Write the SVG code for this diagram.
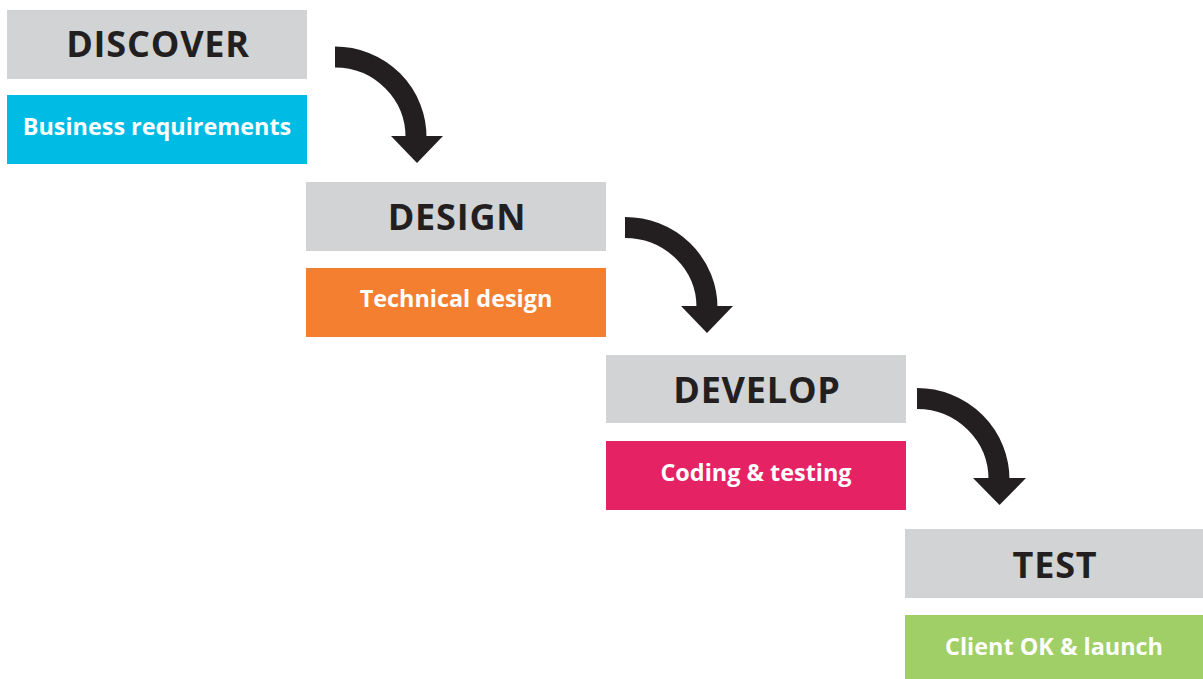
<svg xmlns="http://www.w3.org/2000/svg" width="1203" height="679" viewBox="0 0 1203 679">
<style>
.bg{fill:#ffffff}
.head{fill:#d1d3d4}
.title{font-family:"Open Sans","Liberation Sans",sans-serif;font-weight:700;font-size:36px;letter-spacing:0.8px;fill:#231f20;text-anchor:middle}
.sub{font-family:"Open Sans","Liberation Sans",sans-serif;font-weight:700;font-size:23.4px;fill:#ffffff;text-anchor:middle}
.arc{fill:none;stroke:#231f20;stroke-width:21}
.tip{fill:#231f20}
</style>
<rect class="bg" x="0" y="0" width="1203" height="679"/>
<g id="discover">
<rect class="head" x="7" y="10" width="300" height="69"/>
<text class="title" x="158" y="57">DISCOVER</text>
</g>
<g id="business-requirements">
<rect x="7" y="95" width="300" height="69" fill="#00bce4"/>
<text class="sub" x="157" y="135">Business requirements</text>
</g>
<g id="design">
<rect class="head" x="306" y="182" width="300" height="69"/>
<text class="title" x="457" y="230">DESIGN</text>
</g>
<g id="technical-design">
<rect x="306" y="268" width="300" height="69" fill="#f47f31"/>
<text class="sub" x="456" y="307">Technical design</text>
</g>
<g id="develop">
<rect class="head" x="606" y="355" width="300" height="68"/>
<text class="title" x="757" y="403">DEVELOP</text>
</g>
<g id="coding-testing">
<rect x="606" y="441" width="300" height="69" fill="#e52264"/>
<text class="sub" x="756" y="481">Coding &amp; testing</text>
</g>
<g id="test">
<rect class="head" x="905" y="529" width="298" height="69"/>
<text class="title" x="1055" y="578">TEST</text>
</g>
<g id="client-ok-launch">
<rect x="905" y="615" width="298" height="64" fill="#a0cf67"/>
<text class="sub" x="1054" y="655">Client OK &amp; launch</text>
</g>
<g id="connectors">
<path class="arc" d="M335,57 A81,80 0 0 1 416,138"/>
<polygon class="tip" points="391,136 443,136 417,163"/>
<path class="arc" d="M625,227.5 A82,80 0 0 1 707,308"/>
<polygon class="tip" points="681,306 733,306 707,333"/>
<path class="arc" d="M917,398.5 A82,81 0 0 1 999,480"/>
<polygon class="tip" points="973,478 1026,478 999.5,505"/>
</g>
</svg>
